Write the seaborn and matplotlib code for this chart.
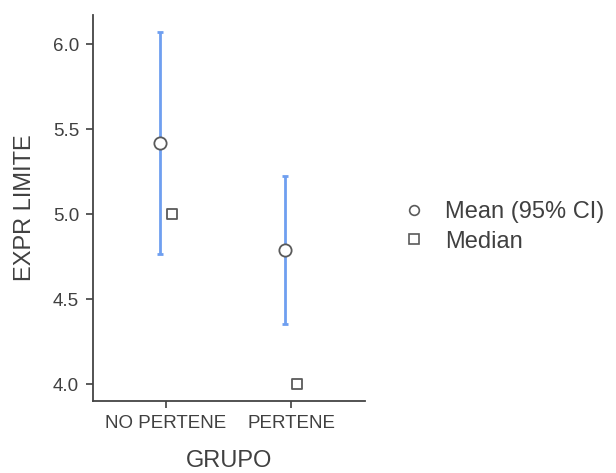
import numpy as np
import pandas as pd
import matplotlib
matplotlib.use("Agg")
import matplotlib.pyplot as plt
from matplotlib.lines import Line2D
import seaborn as sns

groups = ["NO PERTENE", "PERTENE"]
means = [5.418, 4.79]
ci_low = [4.765, 4.356]
ci_high = [6.07, 5.224]
medians = [5.0, 4.0]
y_ticks = [4.0, 4.5, 5.0, 5.5, 6.0]

sns.set_theme(style="white")
plt.rcParams["font.family"] = ["Liberation Sans", "DejaVu Sans"]

text_color = "#404040"
bar_color = "#6f9ff0"
edge_color = "#5a5a5a"

df = pd.DataFrame({
    "group": groups,
    "pos": np.arange(len(groups)),
    "mean": means,
    "low": ci_low,
    "high": ci_high,
    "median": medians,
})
shift = 0.048
df["mean_x"] = df["pos"] - shift
df["median_x"] = df["pos"] + shift

fig = plt.figure(figsize=(6.16, 4.73), dpi=100)
ax = fig.add_axes([0.151, 0.152, 0.442, 0.816])

ax.errorbar(df["mean_x"], df["mean"],
            yerr=[df["mean"] - df["low"], df["high"] - df["mean"]],
            fmt="none", ecolor=bar_color, elinewidth=2.0, capsize=2.0,
            capthick=2.0, zorder=2)
sns.scatterplot(data=df, x="mean_x", y="mean", ax=ax, marker="o", s=78,
                facecolor="white", edgecolor=edge_color, linewidth=1.3,
                zorder=3, legend=False)
sns.scatterplot(data=df, x="median_x", y="median", ax=ax, marker="s", s=60,
                facecolor="white", edgecolor=edge_color, linewidth=1.3,
                zorder=3, legend=False)

ax.set_xlim(-0.584, 1.592)
ax.set_ylim(3.9, 6.17)
ax.set_xticks(df["pos"])
ax.set_xticklabels(groups)
ax.set_yticks(y_ticks)
ax.set_yticklabels([f"{v:.1f}" for v in y_ticks])
ax.set_xlabel("GRUPO", fontsize=17, color=text_color, labelpad=13)
ax.set_ylabel("EXPR LIMITE", fontsize=17, color=text_color, labelpad=12)
ax.tick_params(axis="both", labelsize=13.5, colors=text_color, length=5,
               width=1.2, direction="out", pad=5)
ax.tick_params(axis="both", bottom=True, left=True)
for side in ["top", "right"]:
    ax.spines[side].set_visible(False)
for side in ["left", "bottom"]:
    ax.spines[side].set_color("#444444")
    ax.spines[side].set_linewidth(1.3)

handles = [
    Line2D([], [], linestyle="none", marker="o", markersize=7,
           markerfacecolor="white", markeredgecolor=edge_color,
           markeredgewidth=1.2, label="Mean (95% CI)"),
    Line2D([], [], linestyle="none", marker="s", markersize=6.5,
           markerfacecolor="white", markeredgecolor=edge_color,
           markeredgewidth=1.2, label="Median"),
]
fig.legend(handles=handles, loc="center left", bbox_to_anchor=(0.642, 0.52),
           frameon=False, fontsize=17, handlelength=0.8, handletextpad=0.9,
           labelspacing=0.3, labelcolor=text_color, borderaxespad=0)

fig.savefig("out.png", dpi=100)
